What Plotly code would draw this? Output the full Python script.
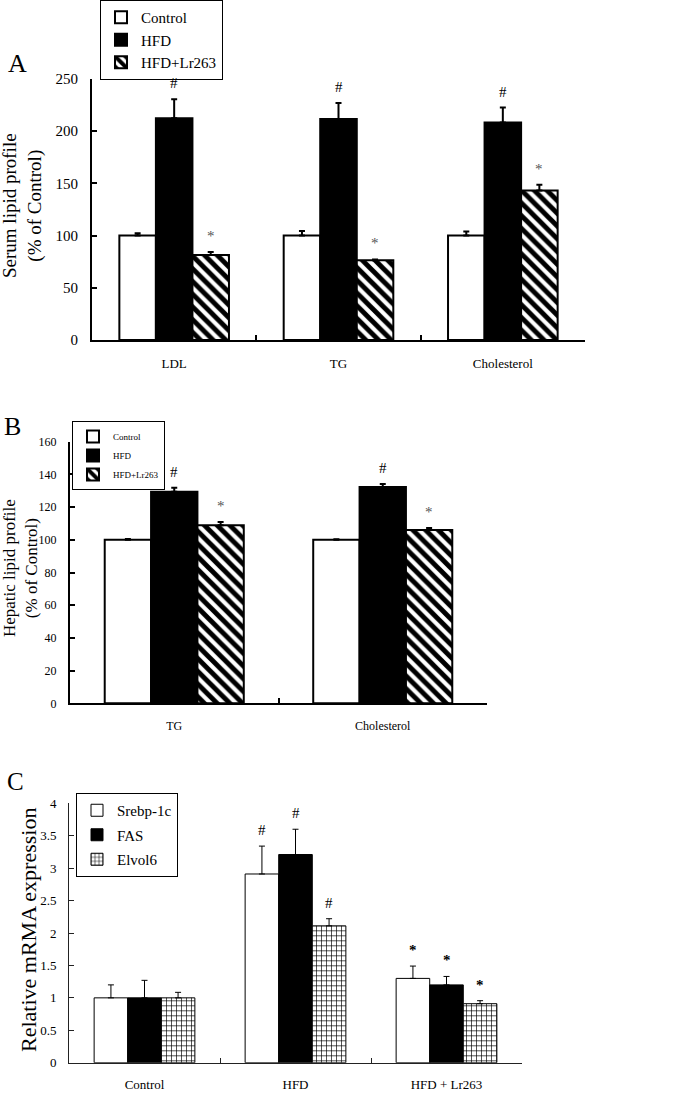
import plotly.graph_objects as go

# ---- data ----
groups_a = ["LDL", "TG", "Cholesterol"]
a_control = [100, 100, 100]
a_control_err = [2.3, 4.5, 3.9]
a_hfd = [212.5, 211.6, 208.4]
a_hfd_err = [18.2, 15.4, 14.3]
a_lr = [81.5, 76.4, 143.2]
a_lr_err = [2.9, 0.8, 5.4]

groups_b = ["TG", "Cholesterol"]
b_control = [100, 100]
b_control_err = [0.5, 0.3]
b_hfd = [129.4, 132.3]
b_hfd_err = [2.5, 1.8]
b_lr = [108.9, 106.0]
b_lr_err = [2.0, 1.2]

groups_c = ["Control", "HFD", "HFD + Lr263"]
c_srebp = [1.0, 2.91, 1.30]
c_srebp_err = [0.20, 0.43, 0.19]
c_fas = [1.0, 3.21, 1.20]
c_fas_err = [0.27, 0.39, 0.13]
c_elvol = [1.0, 2.11, 0.91]
c_elvol_err = [0.085, 0.11, 0.046]

# significance marks per series (control, HFD, HFD+Lr263 / Srebp, FAS, Elvol)
a_marks = [["", "", ""], ["#", "#", "#"], ["*", "*", "*"]]
b_marks = [["", ""], ["#", "#"], ["*", "*"]]
c_marks = [["", "#", "*"], ["", "#", "*"], ["", "#", "*"]]

W, H = 685, 1093
FONT = "Liberation Serif, Times New Roman, serif"

fig = go.Figure()

hatch = dict(shape="\\", fgcolor="black", bgcolor="white", fgopacity=1, size=9, solidity=0.55)
grid = dict(shape="+", fgcolor="black", bgcolor="white", fgopacity=1, size=5, solidity=0.25)


def add_panel(xa, ya, legend, groups, series, lw, errw):
    for name, vals, errs, style in series:
        marker = dict(line=dict(color="black", width=lw))
        if style == "white":
            marker["color"] = "white"
        elif style == "black":
            marker["color"] = "black"
        elif style == "hatch":
            marker["color"] = "white"
            marker["pattern"] = hatch
        else:
            marker["color"] = "white"
            marker["pattern"] = grid
        fig.add_trace(go.Bar(
            x=groups, y=vals, name=name, marker=marker,
            legendgroup=legend + name,
            error_y=dict(type="data", array=errs, arrayminus=[0] * len(errs),
                         symmetric=False, color="black", thickness=errw, width=3),
            xaxis=xa, yaxis=ya, legend=legend,
        ))


add_panel("x", "y", "legend", groups_a, [
    ("Control", a_control, a_control_err, "white"),
    ("HFD", a_hfd, a_hfd_err, "black"),
    ("HFD+Lr263", a_lr, a_lr_err, "hatch"),
], 2, 2)
add_panel("x2", "y2", "legend2", groups_b, [
    ("Control", b_control, b_control_err, "white"),
    ("HFD", b_hfd, b_hfd_err, "black"),
    ("HFD+Lr263", b_lr, b_lr_err, "hatch"),
], 2, 2)
add_panel("x3", "y3", "legend3", groups_c, [
    ("Srebp-1c", c_srebp, c_srebp_err, "white"),
    ("FAS", c_fas, c_fas_err, "black"),
    ("Elvol6", c_elvol, c_elvol_err, "grid"),
], 1, 1)

# panel geometry in pixels
panels = {
    "A": dict(x0=92, x1=585, y0=79, y1=340, rng=[0, 250], dt=50, yf=15, xf=13),
    "B": dict(x0=70, x1=487, y0=441.7, y1=703.3, rng=[0, 160], dt=20, yf=12, xf=12),
    "C": dict(x0=69, x1=522, y0=803.3, y1=1062.7, rng=[0, 4], dt=0.5, yf=13, xf=13),
}
axis_ids = {"A": ("xaxis", "yaxis"), "B": ("xaxis2", "yaxis2"), "C": ("xaxis3", "yaxis3")}
anchors = {"A": ("y", "x"), "B": ("y2", "x2"), "C": ("y3", "x3")}

for key, p in panels.items():
    xk, yk = axis_ids[key]
    lw = 1 if key == "C" else 2
    lc = "#222" if key == "C" else "black"
    fig.update_layout({
        xk: dict(domain=[p["x0"] / W, p["x1"] / W], anchor=anchors[key][0],
                 showline=True, linecolor=lc, linewidth=lw, ticks="inside",
                 tickson="boundaries", ticklen=5, tickwidth=lw, tickcolor=lc,
                 showgrid=False, zeroline=False, ticklabelstandoff=10, automargin=False,
                 tickfont=dict(family=FONT, size=p["xf"], color="black")),
        yk: dict(domain=[1 - p["y1"] / H, 1 - p["y0"] / H], anchor=anchors[key][1],
                 range=p["rng"], dtick=p["dt"], showline=True, linecolor=lc,
                 linewidth=lw, ticks="inside", ticklen=5, tickwidth=lw, tickcolor=lc,
                 showgrid=False, zeroline=False, ticklabelstandoff=9, automargin=False,
                 tickfont=dict(family=FONT, size=p["yf"], color="black")),
    })

annotations = []


def mark_annots(key, xa, ya, groups, vals_list, errs_list, marks_list, size, bold_star):
    p = panels[key]
    cw = (p["x1"] - p["x0"]) / len(groups)
    bw = cw * (1 - 0.333) / 3
    for i, (vals, errs, marks) in enumerate(zip(vals_list, errs_list, marks_list)):
        for g, v, e, m in zip(groups, vals, errs, marks):
            if not m:
                continue
            txt = "<b>*</b>" if (m == "*" and bold_star) else m
            annotations.append(dict(
                x=g, y=v + e, xref=xa, yref=ya, text=txt, showarrow=False,
                xshift=(i - 1) * bw, xanchor="center", yanchor="bottom", yshift=6,
                font=dict(family=FONT, size=size,
                          color="black" if (m == "#" or bold_star) else "#555"),
            ))


mark_annots("A", "x", "y", groups_a, [a_control, a_hfd, a_lr],
            [a_control_err, a_hfd_err, a_lr_err], a_marks, 15, False)
mark_annots("B", "x2", "y2", groups_b, [b_control, b_hfd, b_lr],
            [b_control_err, b_hfd_err, b_lr_err], b_marks, 15, False)
mark_annots("C", "x3", "y3", groups_c, [c_srebp, c_fas, c_elvol],
            [c_srebp_err, c_fas_err, c_elvol_err], c_marks, 15, True)

# panel letters and y titles
for txt, x, y, s in [("A", 17, 64, 26), ("B", 12, 426, 26), ("C", 15, 781, 25)]:
    annotations.append(dict(x=x / W, y=1 - y / H, xref="paper", yref="paper", text=txt,
                            xanchor="center", yanchor="middle", showarrow=False,
                            font=dict(family=FONT, size=s, color="black")))

for txt, x, y, s in [("Serum lipid profile<br>(% of Control)", 23, 206, 19),
                     ("Hepatic lipid profile<br>(% of Control)", 20, 568, 17),
                     ("Relative mRMA expression", 28, 930, 22)]:
    annotations.append(dict(x=x / W, y=1 - y / H, xref="paper", yref="paper", text=txt,
                            textangle=-90, xanchor="center", yanchor="middle",
                            showarrow=False, font=dict(family=FONT, size=s, color="black")))

leg_common = dict(bgcolor="white", bordercolor="black", borderwidth=1,
                  xanchor="left", yanchor="top", xref="paper", yref="paper", itemwidth=30)
fig.update_layout(
    width=W, height=H, margin=dict(l=0, r=0, t=0, b=0),
    paper_bgcolor="white", plot_bgcolor="white",
    font=dict(family=FONT, color="black"),
    barmode="group", bargap=0.333, bargroupgap=0,
    showlegend=True,
    legend=dict(x=100 / W, y=1, font=dict(family=FONT, size=15, color="black"),
                tracegroupgap=0, **leg_common),
    legend2=dict(x=72 / W, y=1 - 421 / H, font=dict(family=FONT, size=9, color="black"),
                 tracegroupgap=0, **leg_common),
    legend3=dict(x=76 / W, y=1 - 793 / H, font=dict(family=FONT, size=15, color="black"),
                 tracegroupgap=2, **leg_common),
    annotations=annotations,
)

fig.write_html("out.html", config={"displayModeBar": False},
               post_script="document.body.style.margin='0';")
